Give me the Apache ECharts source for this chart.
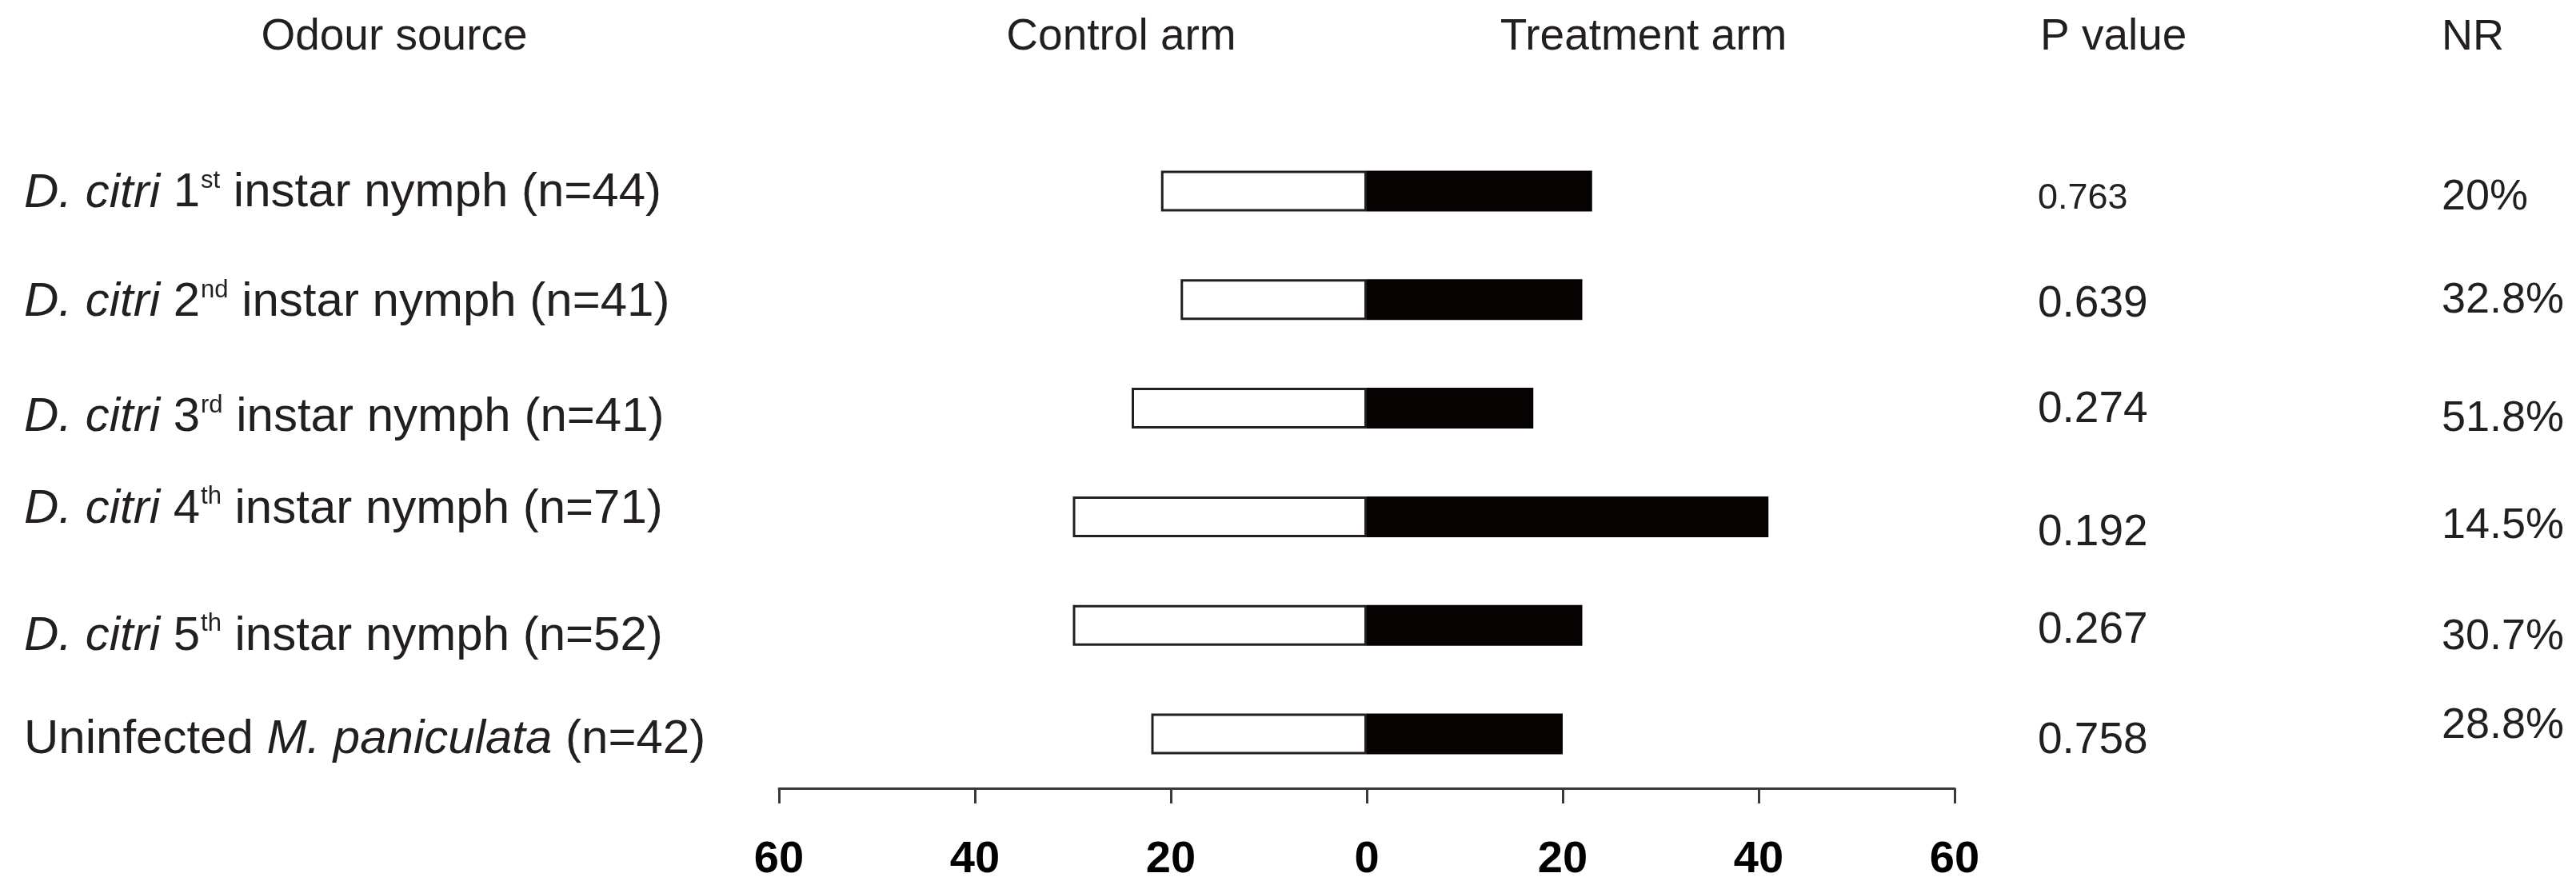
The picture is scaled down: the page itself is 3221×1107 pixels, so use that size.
<!DOCTYPE html>
<html>
<head>
<meta charset="utf-8">
<script src="https://cdn.jsdelivr.net/npm/echarts@6/dist/echarts.min.js"></script>
<style>
html,body{margin:0;padding:0;background:#fff;}
#chart{width:3221px;height:1107px;}
</style>
</head>
<body>
<div id="chart"></div>
<script>
// ---- data ----
const categories = [
  'D. citri 1st instar nymph (n=44)',
  'D. citri 2nd instar nymph (n=41)',
  'D. citri 3rd instar nymph (n=41)',
  'D. citri 4th instar nymph (n=71)',
  'D. citri 5th instar nymph (n=52)',
  'Uninfected M. paniculata (n=42)'
];
const controlArm = [21, 19, 24, 30, 30, 22];
const treatmentArm = [23, 22, 17, 41, 22, 20];
const pValues = ['0.763', '0.639', '0.274', '0.192', '0.267', '0.758'];
const nrValues = ['20%', '32.8%', '51.8%', '14.5%', '30.7%', '28.8%'];
const headers = ['Odour source', 'Control arm', 'Treatment arm', 'P value', 'NR'];

// ---- layout: small vertical nudges (px) of the text columns, as in the original figure ----
const labelNudge = [3, 4, 12, -9, 14, 7];
const pNudge = [10, 6, 2, 20, 7, 9];
const nrNudge = [8, 1, 14, 12, 15, -10];

// ---- styles ----
const INK = '#231f20';
const FONT = '"Liberation Sans", Arial, sans-serif';

function pad(d) { return d >= 0 ? [2 * d, 0, 0, 0] : [0, 0, -2 * d, 0]; }
function withNudge(values, nudges) {
  return values.map((v, i) => ({
    value: v,
    textStyle: {padding: pad(nudges[i]), align: 'left', verticalAlign: 'middle'}
  }));
}

function rowLabel(v) {
  let m = v.match(/^(D\. citri) (\d)(st|nd|rd|th) (.*)$/);
  if (m) return '{i|' + m[1] + ' }{n|' + m[2] + '}{sup|' + m[3] + '}{n| ' + m[4] + '}';
  m = v.match(/^(Uninfected) (M\. paniculata) (.*)$/);
  if (m) return '{n|' + m[1] + ' }{i|' + m[2] + '}{n| ' + m[3] + '}';
  return '{n|' + v + '}';
}

const chart = echarts.init(document.getElementById('chart'), null, {renderer: 'canvas'});
const option = {
  backgroundColor: '#ffffff',
  animation: false,
  grid: {left: 974, right: 777, top: 171, bottom: 121, containLabel: false, outerBoundsMode: 'none'},
  xAxis: {
    type: 'value',
    min: -60, max: 60, interval: 20,
    splitLine: {show: false},
    axisLine: {show: true, lineStyle: {color: '#3a3a3a', width: 3}},
    axisTick: {show: true, length: 19, lineStyle: {color: '#3a3a3a', width: 3}},
    axisLabel: {
      formatter: v => String(Math.abs(v)),
      fontFamily: FONT, fontSize: 56, fontWeight: 'bold', color: '#000', margin: 62
    }
  },
  yAxis: [
    {
      type: 'category', data: withNudge(categories, labelNudge), inverse: true,
      axisLine: {show: false}, axisTick: {show: false},
      axisLabel: {
        interval: 0, align: 'left', margin: 944,
        formatter: rowLabel,
        rich: {
          n: {fontFamily: FONT, fontSize: 60, color: INK, lineHeight: 62},
          i: {fontFamily: FONT, fontSize: 60, fontStyle: 'italic', color: INK, lineHeight: 62},
          sup: {fontFamily: FONT, fontSize: 31, color: INK, verticalAlign: 'top', lineHeight: 62, padding: [0, 0, 0, 1]}
        }
      }
    },
    {
      type: 'category', inverse: true, position: 'right',
      data: withNudge(pValues, pNudge),
      axisLine: {show: false}, axisTick: {show: false},
      axisLabel: {
        interval: 0, align: 'left', margin: 104,
        formatter: (v, i) => (i === 0 ? '{s|' : '{n|') + v + '}',
        rich: {
          n: {fontFamily: FONT, fontSize: 55, color: INK, lineHeight: 58},
          s: {fontFamily: FONT, fontSize: 45, color: INK, lineHeight: 58}
        }
      }
    },
    {
      type: 'category', inverse: true, position: 'right', offset: 500,
      data: withNudge(nrValues, nrNudge),
      axisLine: {show: false}, axisTick: {show: false},
      axisLabel: {
        interval: 0, align: 'left', margin: 109,
        formatter: v => '{n|' + v + '}',
        rich: {n: {fontFamily: FONT, fontSize: 54, color: INK, lineHeight: 58}}
      }
    }
  ],
  series: [
    {
      name: 'Control arm', type: 'bar', stack: 'arms', yAxisIndex: 0,
      data: controlArm.map(v => -v), barWidth: 51,
      itemStyle: {color: '#ffffff', borderColor: INK, borderWidth: 3}
    },
    {
      name: 'Treatment arm', type: 'bar', stack: 'arms', yAxisIndex: 0,
      data: treatmentArm, barWidth: 51,
      itemStyle: {color: '#070302', borderColor: '#070302', borderWidth: 2}
    }
  ],
  graphic: [
    {type: 'text', x: 493, y: 47, style: {text: headers[0], font: '55px ' + FONT, fill: INK, textAlign: 'center', textVerticalAlign: 'middle'}},
    {type: 'text', x: 1402, y: 47, style: {text: headers[1], font: '55px ' + FONT, fill: INK, textAlign: 'center', textVerticalAlign: 'middle'}},
    {type: 'text', x: 2055, y: 47, style: {text: headers[2], font: '55px ' + FONT, fill: INK, textAlign: 'center', textVerticalAlign: 'middle'}},
    {type: 'text', x: 2551, y: 47, style: {text: headers[3], font: '55px ' + FONT, fill: INK, textAlign: 'left', textVerticalAlign: 'middle'}},
    {type: 'text', x: 3053, y: 47, style: {text: headers[4], font: '54px ' + FONT, fill: INK, textAlign: 'left', textVerticalAlign: 'middle'}}
  ]
};
chart.setOption(option);
</script>
</body>
</html>
